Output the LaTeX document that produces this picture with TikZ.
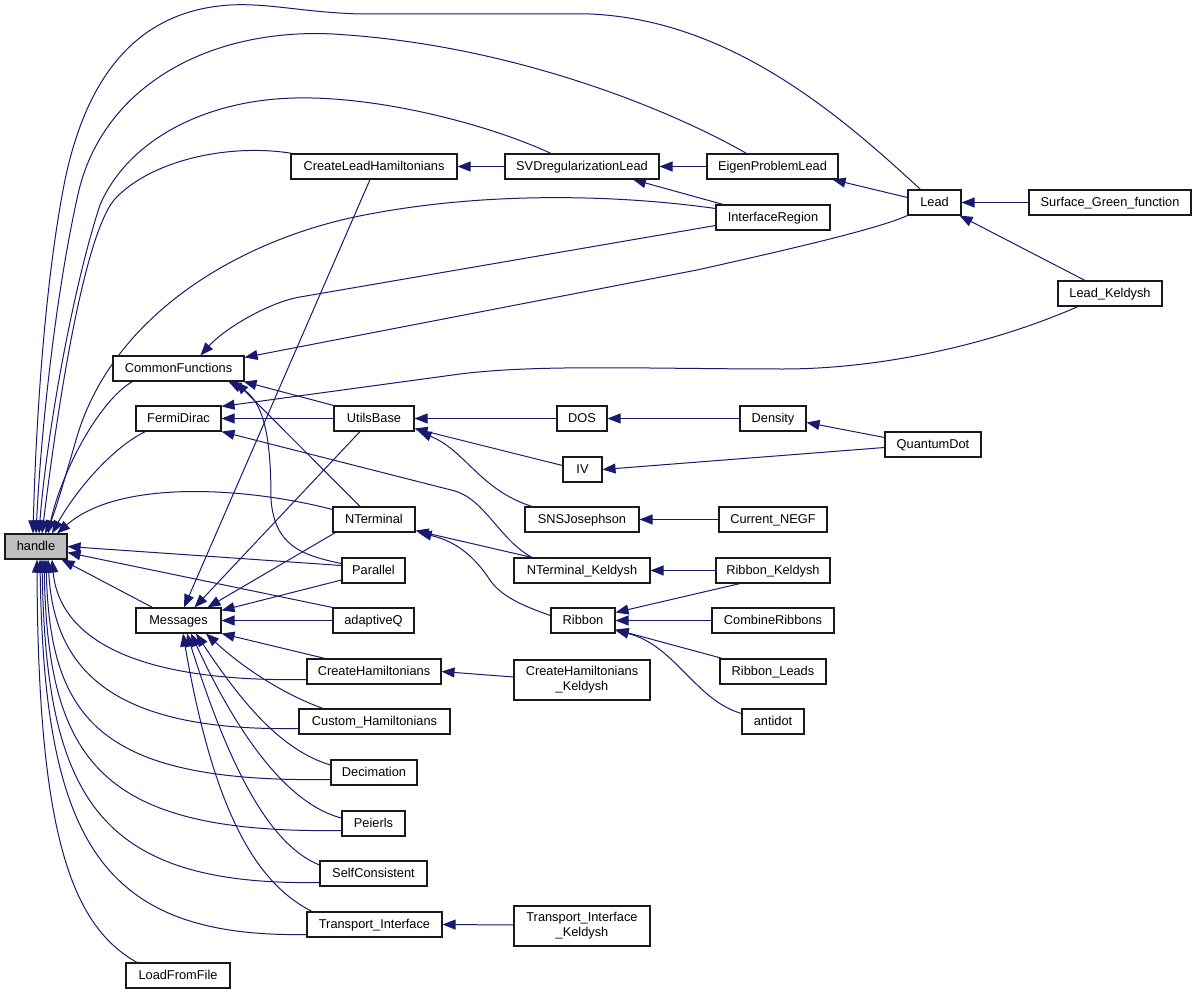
\documentclass[tikz,border=0pt]{standalone}
\usepackage{fontspec}
\setmainfont{Liberation Sans}
\usetikzlibrary{arrows.meta}
\definecolor{edgec}{HTML}{191970}
\definecolor{hgray}{HTML}{BFBFBF}
\definecolor{boxc}{HTML}{1A1A1A}
\pgfdeclarelayer{bg}
\pgfsetlayers{bg,main}
\begin{document}
\begin{tikzpicture}[x=1pt,y=-1pt,
 boxbase/.style={draw=boxc, line width=1.1pt, fill=white, inner sep=0pt, minimum height=25pt, font=\fontsize{12.8}{15}\selectfont, align=center},
 box/.style={boxbase, text height=9.5pt, text depth=1.5pt},
 edge/.style={draw=edgec, line width=1pt, -{Triangle[length=13pt,width=10pt]}}]
\useasboundingbox (0,0) rectangle (1197,995);
% nodes
\node[box, fill=hgray, minimum width=62pt] (handle) at (36,546.5) {handle};
\node[box, minimum width=131pt] (CF) at (178.5,368.5) {CommonFunctions};
\node[box, minimum width=85pt] (FD) at (178.5,418.5) {FermiDirac};
\node[box, minimum width=85pt] (Msg) at (178.5,620.5) {Messages};
\node[box, minimum width=104pt] (LFF) at (178,975.5) {LoadFromFile};
\node[box, minimum width=166pt] (CLH) at (374,166.5) {CreateLeadHamiltonians};
\node[box, minimum width=80pt] (UB) at (374,418.5) {UtilsBase};
\node[box, minimum width=82pt] (NT) at (374,519.5) {NTerminal};
\node[box, minimum width=63pt] (Par) at (373.5,570.5) {Parallel};
\node[box, minimum width=81pt] (aQ) at (373.5,620.5) {adaptiveQ};
\node[box, minimum width=134pt] (CH) at (374,671.5) {CreateHamiltonians};
\node[box, minimum width=151pt] (Cust) at (374.5,721.5) {Custom\_Hamiltonians};
\node[box, minimum width=86pt] (Dec) at (374,772.5) {Decimation};
\node[box, minimum width=63pt] (Pei) at (373.5,823.5) {Peierls};
\node[box, minimum width=107pt] (SC) at (373.5,873.5) {SelfConsistent};
\node[box, minimum width=135pt] (TI) at (374.5,924.5) {Transport\_Interface};
\node[box, minimum width=154pt] (SVD) at (582,166.5) {SVDregularizationLead};
\node[box, minimum width=50pt] (DOS) at (582,418.5) {DOS};
\node[box, minimum width=39pt] (IV) at (582.5,469.5) {IV};
\node[box, minimum width=114pt] (SNS) at (582,519.5) {SNSJosephson};
\node[box, minimum width=136pt] (NTK) at (582,570.5) {NTerminal\_Keldysh};
\node[box, minimum width=64pt] (Rib) at (583,620.5) {Ribbon};
\node[boxbase, minimum width=136pt, minimum height=40pt] (CHK) at (582,680) {CreateHamiltonians\\\_Keldysh};
\node[boxbase, minimum width=136pt, minimum height=40pt] (TIK) at (582,926) {Transport\_Interface\\\_Keldysh};
\node[box, minimum width=131pt] (EPL) at (772.5,166.5) {EigenProblemLead};
\node[box, minimum width=114pt] (IR) at (773,217.5) {InterfaceRegion};
\node[box, minimum width=66pt] (Den) at (773,418.5) {Density};
\node[box, minimum width=108pt] (CN) at (773,519.5) {Current\_NEGF};
\node[box, minimum width=114pt] (RK) at (773,570.5) {Ribbon\_Keldysh};
\node[box, minimum width=122pt] (CR) at (773,620.5) {CombineRibbons};
\node[box, minimum width=106pt] (RL) at (773,671.5) {Ribbon\_Leads};
\node[box, minimum width=62pt] (anti) at (773,721.5) {antidot};
\node[box, minimum width=53pt] (Lead) at (934.5,202.5) {Lead};
\node[box, minimum width=96pt] (QD) at (933,444.5) {QuantumDot};
\node[box, minimum width=162pt] (SGF) at (1110,202.5) {Surface\_Green\_function};
\node[box, minimum width=104pt] (LK) at (1110,293.5) {Lead\_Keldysh};
\begin{pgfonlayer}{bg}
\fill[white] (0,0) rectangle (1197,995);
% into handle, from above
\draw[edge] ([xshift=-14pt]Lead.north) .. controls (840,115) and (730,20) .. (590,14) -- (360,14) .. controls (300,12) and (270,3) .. (230,5) .. controls (150,10) and (90,60) .. (65,180) .. controls (45,280) and (36,420) .. ([xshift=-3pt]handle.north);
\draw[edge] ([xshift=-26pt]EPL.north) .. controls (680,115) and (520,45) .. (333,34) .. controls (210,28) and (105,85) .. (79,190) .. controls (56,290) and (41,430) .. (handle.north);
\draw[edge] ([xshift=-31pt]SVD.north) .. controls (490,125) and (380,96) .. (295,98) .. controls (205,100) and (128,140) .. (100,205) .. controls (72,290) and (46,440) .. ([xshift=3pt]handle.north);
\draw[edge] ([xshift=2pt]CLH.north west) .. controls (230,143) and (150,160) .. (114,200) .. controls (82,240) and (56,420) .. ([xshift=6pt]handle.north);
\draw[edge] ([yshift=9pt]IR.west) .. controls (620,195) and (480,190) .. (350,218) .. controls (230,245) and (110,320) .. (76,440) .. controls (63,485) and (54,515) .. ([xshift=9pt]handle.north);
\draw[edge] ([xshift=-46pt]CF.south) .. controls (100,400) and (62,470) .. ([xshift=12pt]handle.north);
\draw[edge] ([xshift=-33pt]FD.south) .. controls (113,447) and (76,490) .. ([xshift=16pt]handle.north);
\draw[edge] ([yshift=10pt]NT.west) .. controls (250,488) and (120,478) .. ([xshift=21pt]handle.north);
\draw[edge] ([yshift=5pt]Par.west) -- (handle.east);
\draw[edge] (aQ.north west) -- ([yshift=-6pt]handle.east);
\draw[edge] ([xshift=-26pt]Msg.north) -- ([xshift=-6pt]handle.south east);
% into handle, from below
\draw[edge] ([yshift=-8pt]CH.west) .. controls (110,683) and (58,625) .. ([xshift=16pt]handle.south);
\draw[edge] ([yshift=-7pt]Cust.west) .. controls (105,732) and (54,665) .. ([xshift=12pt]handle.south);
\draw[edge] ([yshift=-7pt]Dec.west) .. controls (100,783) and (50,720) .. ([xshift=10pt]handle.south);
\draw[edge] ([yshift=-7pt]Pei.west) .. controls (100,834) and (48,762) .. ([xshift=8pt]handle.south);
\draw[edge] ([yshift=-9pt]SC.west) .. controls (100,886) and (46,800) .. ([xshift=6pt]handle.south);
\draw[edge] ([yshift=-10pt]TI.west) .. controls (100,938) and (44,840) .. ([xshift=4pt]handle.south);
\draw[edge] ([xshift=-41pt]LFF.north) .. controls (70,925) and (38,830) .. ([xshift=1pt]handle.south);
% into Messages
\draw[edge] ([xshift=-4pt]CLH.south) -- ([xshift=5.5pt]Msg.north);
\draw[edge] ([xshift=-14pt]UB.south) -- ([xshift=16pt]Msg.north);
\draw[edge] ([xshift=3pt]NT.south west) -- ([xshift=29pt]Msg.north);
\draw[edge] ([yshift=-9.5pt]Par.west) -- ([yshift=-3pt]Msg.north east);
\draw[edge] (aQ.west) -- (Msg.east);
\draw[edge] ([xshift=-49pt]CH.north) -- (Msg.south east);
\draw[edge] ([xshift=-51.5pt]Cust.north) .. controls (280,693) and (240,665) .. ([xshift=27.5pt]Msg.south);
\draw[edge] ([yshift=7.5pt]Dec.west) .. controls (280,750) and (240,700) .. ([xshift=17.5pt]Msg.south);
\draw[edge] ([yshift=5.5pt]Pei.west) .. controls (290,805) and (240,740) .. ([xshift=12.5pt]Msg.south);
\draw[edge] ([yshift=8.5pt]SC.west) .. controls (270,845) and (230,770) .. ([xshift=8.5pt]Msg.south);
\draw[edge] ([xshift=-62.5pt]TI.north) .. controls (260,885) and (215,820) .. ([xshift=4.5pt]Msg.south);
% into CommonFunctions
\draw[edge] ([yshift=-8pt]IR.west) -- (300,297) .. controls (270,302) and (225,328) .. ([xshift=22pt]CF.north);
\draw[edge] (Lead.south west) .. controls (880,228) and (800,247) .. (697,270) -- ([yshift=-2pt]CF.north east);
\draw[edge] (UB.north west) -- ([xshift=-1pt]CF.south east);
\draw[edge] ([xshift=-14pt]NT.north) -- ([xshift=57pt]CF.south);
\draw[edge] ([yshift=7pt]Par.west) .. controls (300,555) and (275,545) .. (271,500) .. controls (271,440) and (265,400) .. ([xshift=50pt]CF.south);
% into FermiDirac
\draw[edge] ([xshift=-32pt]LK.south) .. controls (990,345) and (880,369) .. (783,369) .. controls (650,369) and (540,364) .. (460,374) -- ([yshift=-1pt]FD.north east);
\draw[edge] (UB.west) -- (FD.east);
\draw[edge] ([xshift=-50pt]NTK.north) .. controls (500,540) and (485,500) .. (455,491) -- (FD.south east);
% into UtilsBase and others
\draw[edge] (DOS.west) -- (UB.east);
\draw[edge] ([yshift=4pt]IV.west) -- ([yshift=3pt]UB.south east);
\draw[edge] ([xshift=-50pt]SNS.north) .. controls (480,490) and (465,450) .. ([xshift=4pt]UB.south east);
\draw[edge] (Den.west) -- (DOS.east);
\draw[edge] ([yshift=7pt]QD.west) -- ([yshift=-4pt]Den.east);
\draw[edge] ([yshift=-3pt]QD.west) -- (IV.east);
\draw[edge] (CN.west) -- (SNS.east);
\draw[edge] ([xshift=-50pt]NTK.north) -- ([yshift=2pt]NT.south east);
\draw[edge] ([yshift=5pt]Rib.west) .. controls (520,605) and (500,595) .. (490,580) .. controls (470,550) and (450,540) .. ([xshift=3pt]NT.south east);
\draw[edge] (RK.west) -- (NTK.east);
\draw[edge] ([xshift=-33pt]RK.south) -- ([yshift=8pt]Rib.east);
\draw[edge] (CR.west) -- (Rib.east);
\draw[edge] ([xshift=3pt]RL.north west) -- ([yshift=-9pt]Rib.east);
\draw[edge] ([yshift=8pt]anti.west) .. controls (695,700) and (675,645) .. ([yshift=-10pt]Rib.east);
\draw[edge] ([yshift=3pt]CHK.west) -- (CH.east);
\draw[edge] ([yshift=1pt]TIK.west) -- (TI.east);
\draw[edge] (SVD.west) -- (CLH.east);
\draw[edge] (EPL.west) -- (SVD.east);
\draw[edge] ([xshift=-50pt]IR.north) -- ([xshift=51pt]SVD.south);
\draw[edge] ([yshift=5pt]Lead.west) -- ([xshift=-6pt]EPL.south east);
\draw[edge] (SGF.west) -- (Lead.east);
\draw[edge] ([xshift=-25pt]LK.north) -- ([xshift=-2pt]Lead.south east);
\end{pgfonlayer}
\end{tikzpicture}
\end{document}
